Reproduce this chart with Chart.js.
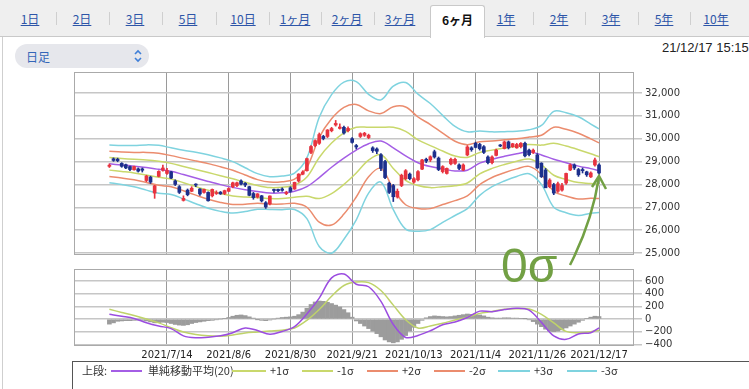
<!DOCTYPE html>
<html>
<head>
<meta charset="utf-8">
<script src="https://cdn.jsdelivr.net/npm/chart.js@4.4.0/dist/chart.umd.min.js"></script>
<style>
  body { margin: 0; width: 749px; height: 389px; overflow: hidden; background: #fff; position: relative; font-family: "DejaVu Sans", sans-serif; }
  #tabbar { position: absolute; left: 0; top: 0; width: 749px; height: 36px; background: #efefef; border-bottom: 1px solid #c9c9c9; }
  .tab { position: absolute; top: 10px; transform: translateX(-50%); font: 12px "Noto Sans CJK JP", sans-serif; color: #2d55a8; text-decoration: underline; white-space: nowrap; }
  .sep { position: absolute; top: 12px; width: 1px; height: 13px; background: #cfcfcf; }
  #active { position: absolute; left: 430px; top: 5px; width: 53px; height: 32px; background: #fff; border: 1px solid #c9c9c9; border-bottom: none; border-radius: 3px 3px 0 0; }
  #active span { display: block; text-align: center; margin-top: 5px; font: bold 12px "Noto Sans CJK JP", sans-serif; color: #111; }
  #frame { position: absolute; left: 2px; top: 37px; width: 1px; height: 352px; background: #cfcfcf; }
  #sel { position: absolute; left: 15px; top: 44px; width: 134px; height: 24px; border-radius: 12px; background: #e6e7ec; }
  #sel span { position: absolute; left: 11px; top: 4px; font: 12px "Noto Sans CJK JP", sans-serif; color: #3466b8; }
  #sel svg { position: absolute; left: 118px; top: 5px; }
  #stamp { position: absolute; left: 662px; top: 40px; font: 13px "Liberation Sans", sans-serif; color: #222; white-space: nowrap; }
  canvas { position: absolute; left: 0; }
  #price { top: 50px; }
  #osc { top: 252px; }
  #legend { position: absolute; left: 72px; top: 361px; width: 700px; height: 40px; border: 1px solid #555; }
  .lg { position: absolute; top: 0px; font: 11px "Noto Sans CJK JP", sans-serif; color: #333; white-space: nowrap; }
  .ll { position: absolute; top: 8px; height: 1.5px; }
  #note { position: absolute; left: 0; top: 0; pointer-events: none; }
</style>
</head>
<body>
<div id="tabbar"></div>
<div id="frame"></div>
<div id="sel"><span>日足</span>
  <svg width="10" height="14" viewBox="0 0 10 14"><path d="M2 5 L5 2 L8 5 M2 9 L5 12 L8 9" fill="none" stroke="#3f7fd8" stroke-width="1.6"/></svg>
</div>
<div id="stamp">21/12/17 15:15</div>
<canvas id="price" width="749" height="215"></canvas>
<canvas id="osc" width="749" height="110"></canvas>
<div id="legend"></div>
<svg id="note" width="749" height="389">
  <text x="501" y="282" font-family="Liberation Sans, sans-serif" font-size="48" fill="#72a044">0σ</text>
  <path d="M570 265 Q592 222 599 177" fill="none" stroke="#72a044" stroke-width="2.5"/>
  <path d="M592 187 L599 176 L606 189" fill="none" stroke="#72a044" stroke-width="2.5"/>
</svg>
<script>
// ---- tabs ----
const tabNames = ['1日', '2日', '3日', '5日', '10日', '1ヶ月', '2ヶ月', '3ヶ月', '6ヶ月', '1年', '2年', '3年', '5年', '10年'];
const tabCenters = [30, 82, 135, 188, 243, 295, 347, 400, 456, 506, 559, 611, 664, 716];
const activeTab = 8;

// ---- x axis (trading-day index, 0 = 2021/6/24) ----
const tickIdx = [14, 29, 44, 59, 74, 89, 104, 119];
const tickLabels = ['2021/7/14', '2021/8/6', '2021/8/30', '2021/9/21', '2021/10/13', '2021/11/4', '2021/11/26', '2021/12/17'];

// ---- price panel ----
const priceTicks = [25000, 26000, 27000, 28000, 29000, 30000, 31000, 32000];
const opens  = [28790,29120,29100,28920,28860,28780,28640,28680,28680,28170,28320,27620,28350,28620,28480,
                28550,28150,27900,27300,27750,27700,27980,27800,27650,27650,27500,27600,27660,27600,27700,
                27900,27950,28150,28050,27900,27600,27450,27500,27200,27150,27780,27780,27800,27600,27850,
                27800,28150,28450,28600,29400,29700,29800,30100,30100,30350,30600,30450,30500,30350,30000,
                29700,30100,30150,30050,29600,29550,29300,29000,28050,27950,27450,27950,28250,28450,28100,
                28200,28670,29100,29070,29430,29150,28560,28480,28900,28920,28850,28630,29290,29600,29800,
                29750,29650,29200,28950,29270,29720,29570,29860,29650,29600,29650,29800,29500,29400,29290,
                28930,28630,27900,27990,27700,27750,28060,28630,28850,28650,28650,28550,28330,28850,28850];
const highs  = [28900,29160,29150,28950,28890,28800,28800,28720,28720,28400,28360,27960,28600,28850,28700,
                28570,28200,27950,27500,27800,27900,28030,27820,27800,27680,27800,27720,27690,27750,27850,
                28100,28100,28200,28080,27920,27650,27600,27520,27250,27500,27800,27800,27850,27700,27900,
                28100,28470,28600,29150,29700,29950,30250,30150,30400,30500,30800,30650,30550,30520,30050,
                29750,30260,30280,30200,29650,29600,29350,29050,28100,28000,27800,28450,28650,28500,28300,
                28600,29100,29150,29250,29500,29200,28820,28720,29150,29150,28900,28900,29700,29650,29850,
                29800,29700,29250,29250,29550,29750,29900,29900,29800,29800,29830,29850,29550,29550,29350,
                28950,28700,28250,28050,28100,28050,28500,28900,28900,28700,28720,28580,28550,29150,28900];
const lows   = [28740,29010,28990,28750,28690,28600,28620,28540,28540,28120,28040,27390,28330,28580,28440,
                28250,27950,27600,27270,27500,27680,27900,27520,27620,27270,27450,27560,27560,27550,27680,
                27850,27900,27980,27900,27500,27350,27400,27230,26950,27100,27650,27680,27700,27550,27650,
                27780,28100,28420,28580,29350,29650,29750,29950,30050,30300,30550,30420,30200,30300,29800,
                29550,30050,30100,30000,29400,29350,28600,28250,27600,27250,27400,27900,28200,28200,28050,
                28150,28650,28950,29000,29150,28600,28500,28450,28850,28880,28650,28600,29250,29450,29600,
                29500,29350,28900,28900,29250,29650,29550,29550,29620,29580,29600,29200,29250,29350,28700,
                28300,27950,27850,27550,27650,27700,28000,28600,28650,28350,28500,28350,28300,28800,28450];
const closes = [28840,29050,29040,28790,28720,28650,28780,28580,28620,28366,28100,27940,28569,28718,28608,
                28279,28003,27652,27388,27548,27833,27970,27581,27782,27283,27781,27642,27584,27728,27820,
                28070,28070,28015,27977,27523,27424,27585,27281,27013,27494,27732,27724,27742,27641,27700,
                28089,28451,28543,29128,29659,29916,30181,30008,30381,30447,30670,30511,30250,30450,29839,
                29639,30220,30240,30150,29480,29452,28700,28300,27650,27460,27700,28400,28600,28250,28250,
                28560,29070,29025,29210,29200,28650,28780,28700,29100,29098,28700,28850,29640,29520,29620,
                29560,29400,28950,29200,29500,29680,29860,29600,29780,29750,29800,29250,29302,29499,28720,
                28340,27850,28190,27620,28029,27950,28480,28850,28720,28420,28600,28420,28500,29070,28500];

// Bollinger band lines, read every 3 trading days
const bandX = [0,3,6,9,12,15,18,21,24,27,30,33,36,39,42,45,48,51,54,57,60,63,66,69,72,75,78,81,84,87,90,93,96,99,102,105,108,111,114,117,119];
const sma = [28900,28850,28800,28740,28660,28580,28430,28280,28130,27990,27870,27770,27690,27620,27630,27700,27900,28300,28750,29150,29500,29780,29900,29600,29250,28950,28780,28680,28590,28620,28930,29100,29230,29340,29430,29290,29100,28950,28800,28690,28600];
const up1  = [29175,29135,29100,29070,29010,28920,28785,28655,28520,28380,28245,28090,27950,27860,27875,27965,28320,29180,29810,30260,30500,30500,30500,30500,30320,29950,29700,29460,29240,29180,29400,29500,29590,29670,29750,29720,29800,29680,29520,29340,29210];
const dn1  = [28625,28565,28500,28410,28310,28240,28075,27905,27740,27600,27495,27450,27430,27380,27385,27435,27480,27380,27600,28000,28500,29060,29300,28700,28180,27950,27860,27900,27940,28060,28460,28700,28870,29010,29110,28860,28400,28220,28080,28040,27990];
const up2  = [29450,29420,29400,29400,29360,29260,29140,29030,28910,28770,28620,28410,28210,28100,28120,28230,28740,30060,30870,31370,31500,31220,31100,31400,31390,30950,30620,30240,29890,29740,29870,29900,29950,30000,30070,30150,30500,30410,30240,29990,29820];
const dn2  = [28350,28280,28200,28080,27960,27900,27720,27530,27350,27210,27120,27130,27170,27140,27140,27170,27000,26350,26220,26700,27450,28340,28700,27800,27110,26950,26940,27120,27290,27500,27990,28300,28510,28680,28790,28430,27700,27490,27360,27390,27380];
const up3  = [29725,29705,29700,29730,29710,29600,29495,29405,29300,29160,28995,28730,28470,28340,28365,28495,29160,30940,31930,32480,32500,31940,31700,32300,32460,31950,31540,31020,30540,30300,30340,30300,30310,30330,30390,30580,31200,31140,30960,30640,30430];
const dn3  = [28075,27995,27900,27750,27610,27560,27365,27155,26960,26820,26745,26810,26910,26900,26895,26905,26500,25280,24990,25600,26450,27620,28100,26900,26040,25950,26020,26340,26640,26940,27520,27900,28150,28350,28470,28000,27000,26760,26640,26740,26770];

// ---- oscillator panel ----
const oscTicks = [-400, -200, 0, 200, 400, 600];
const oscTickLabels = ['−400', '−200', '0', '200', '400', '600'];
const macd   = [75,45,10,-58,-110,-150,-265,-295,-285,-265,-215,-140,-180,-240,-195,-120,80,330,650,710,550,510,280,-85,-290,-258,-185,-90,-45,25,125,115,150,170,140,-52,-266,-320,-235,-215,-140];
const signal = [154,105,55,0,-60,-135,-205,-245,-265,-270,-250,-220,-205,-190,-175,-140,-20,150,360,530,585,575,450,220,-10,-140,-110,-65,-15,30,90,120,155,162,160,75,-60,-195,-215,-200,-175];
const hist = [-80,-60,-35,-30,-25,-25,-20,-15,-20,-30,-45,-60,-55,-50,-55,-70,-85,-95,-100,-90,-70,-55,-45,-35,-25,-20,-10,0,10,25,
              45,60,65,55,35,15,-5,-20,-25,-15,0,15,25,30,35,45,70,110,170,230,270,285,280,265,245,220,190,150,100,30,
              -30,-70,-110,-150,-190,-230,-280,-330,-360,-375,-360,-320,-260,-190,-130,-70,-20,20,40,50,45,40,35,40,50,60,70,80,75,70,
              65,50,30,20,15,15,20,20,15,15,10,5,-10,-40,-80,-120,-160,-190,-200,-190,-170,-140,-110,-80,-50,-20,10,30,45,40];

// ---- legend ----
const legendItems = [
  { label: '単純移動平均(20)', color: '#a45ee5', x: 110, w: 31, tx: 147 },
  { label: '+1σ', color: '#c9d86c', x: 231, w: 34, tx: 269 },
  { label: '-1σ', color: '#c9d86c', x: 301, w: 31, tx: 336 },
  { label: '+2σ', color: '#eb8c6e', x: 366, w: 31, tx: 401 },
  { label: '-2σ', color: '#eb8c6e', x: 433, w: 31, tx: 468 },
  { label: '+3σ', color: '#7fd3df', x: 497, w: 32, tx: 533 },
  { label: '-3σ', color: '#7fd3df', x: 566, w: 30, tx: 600 }
];

const UP = '#e8333f';
const DOWN = '#1c2f8c';
const X_MIN = -8.6, X_MAX = 127.5;

// build tabs
const bar = document.getElementById('tabbar');
tabNames.forEach((t, i) => {
  if (i === activeTab) {
    const a = document.createElement('div');
    a.id = 'active';
    a.innerHTML = '<span>' + t + '</span>';
    bar.appendChild(a);
  } else {
    const s = document.createElement('span');
    s.className = 'tab';
    s.style.left = tabCenters[i] + 'px';
    s.textContent = t;
    bar.appendChild(s);
  }
  if (i < tabNames.length - 1 && i !== activeTab && i !== activeTab - 1) {
    const d = document.createElement('div');
    d.className = 'sep';
    d.style.left = Math.round((tabCenters[i] + tabCenters[i + 1]) / 2) + 'px';
    bar.appendChild(d);
  }
});

// build legend
const lg = document.getElementById('legend');
lg.insertAdjacentHTML('beforeend', '<span class="lg" style="left:9px">上段:</span>');
legendItems.forEach(it => {
  lg.insertAdjacentHTML('beforeend',
    `<div class="ll" style="left:${it.x - 72}px;width:${it.w}px;background:${it.color}"></div>` +
    `<span class="lg" style="left:${it.tx - 72}px">${it.label}</span>`);
});

const idx = opens.map((_, i) => i);
const candleColor = idx.map(i => closes[i] >= opens[i] ? UP : DOWN);
const pts = ys => bandX.map((x, k) => ({ x, y: ys[k] }));
const line = (ys, color, order) => ({
  type: 'line', data: pts(ys), borderColor: color, borderWidth: 1.5,
  pointRadius: 0, tension: 0.35, fill: false, order
});

const frame = {
  id: 'frame',
  beforeDatasetsDraw(chart) {
    const { ctx, chartArea: a } = chart;
    ctx.save();
    ctx.strokeStyle = '#aaaaaa';
    ctx.lineWidth = 1;
    ctx.strokeRect(a.left + 0.5, a.top + 0.5, a.right - a.left - 1, a.bottom - a.top - 1);
    ctx.restore();
  }
};

const xScale = (showLabels) => ({
  type: 'linear', min: X_MIN, max: X_MAX, offset: false,
  afterBuildTicks: s => { s.ticks = tickIdx.map(v => ({ value: v })); },
  afterFit: s => { s.height = showLabels ? 16 : 0; },
  grid: { color: '#9a9a9a', lineWidth: 1, drawTicks: false, offset: false },
  border: { display: false },
  ticks: {
    display: showLabels, autoSkip: false, maxRotation: 0, minRotation: 0, padding: 3,
    color: '#222', font: { family: 'DejaVu Sans', size: 10 },
    callback: v => tickLabels[tickIdx.indexOf(v)]
  }
});

const yScale = (min, max, ticks, labels) => ({
  position: 'right', min, max,
  afterBuildTicks: s => { s.ticks = ticks.map(v => ({ value: v })); },
  afterFit: s => { s.width = 115; },
  grid: { color: '#c6c6c6', lineWidth: 1.5, tickLength: 8 },
  border: { display: false },
  ticks: {
    padding: 3, color: '#333', font: { family: 'DejaVu Sans', size: 10 },
    callback: v => labels[ticks.indexOf(v)]
  }
});

const common = {
  responsive: false, animation: false, devicePixelRatio: 1,
  plugins: { legend: { display: false }, tooltip: { enabled: false } }
};

// nudge layout padding until the plot area sits where the reference has it
function pin(chart, pad, want) {
  for (let k = 0; k < 6; k++) {
    const a = chart.chartArea;
    const dt = want.top - a.top, db = a.bottom - want.bottom;
    const dl = want.left - a.left, dr = a.right - want.right;
    if (Math.abs(dt) + Math.abs(db) + Math.abs(dl) + Math.abs(dr) < 0.5) break;
    pad.top += dt; pad.bottom += db; pad.left += dl; pad.right += dr;
    chart.update();
  }
}

// canvas top 50: plot area 72..255 on the page
const pricePad = { left: 74, top: 22, bottom: 10, right: 0 };
const priceChart = new Chart(document.getElementById('price'), {
  type: 'bar',
  data: {
    datasets: [
      { data: idx.map(i => ({ x: i, y: [lows[i], highs[i]] })), backgroundColor: candleColor, barThickness: 1, grouped: false, order: 1 },
      { data: idx.map(i => ({ x: i, y: [opens[i], closes[i]] })), backgroundColor: candleColor, barThickness: 3, minBarLength: 1, grouped: false, order: 0 },
      line(up3, '#7fd3df', 3), line(dn3, '#7fd3df', 3),
      line(up2, '#eb8c6e', 3), line(dn2, '#eb8c6e', 3),
      line(up1, '#c9d86c', 3), line(dn1, '#c9d86c', 3),
      line(sma, '#a45ee5', 2)
    ]
  },
  options: {
    ...common,
    layout: { padding: pricePad },
    scales: {
      x: xScale(false),
      y: yScale(24910, 32920, priceTicks, priceTicks.map(v => v.toLocaleString('en-US')))
    }
  },
  plugins: [frame]
});
pin(priceChart, pricePad, { left: 74, right: 634, top: 22, bottom: 205 });

// canvas top 252: plot area 269..346 on the page
const oscPad = { left: 74, top: 17, bottom: 0, right: 0 };
const oscChart = new Chart(document.getElementById('osc'), {
  type: 'bar',
  data: {
    datasets: [
      { data: idx.map(i => ({ x: i, y: hist[i] })), backgroundColor: '#9c9c9c', barThickness: 4, order: 3 },
      line(signal, '#bfd36a', 1),
      line(macd, '#9b4de0', 0)
    ]
  },
  options: {
    ...common,
    layout: { padding: oscPad },
    scales: {
      x: xScale(true),
      y: yScale(-425, 790, oscTicks, oscTickLabels)
    }
  },
  plugins: [frame]
});
pin(oscChart, oscPad, { left: 74, right: 634, top: 17, bottom: 94 });
</script>
</body>
</html>
